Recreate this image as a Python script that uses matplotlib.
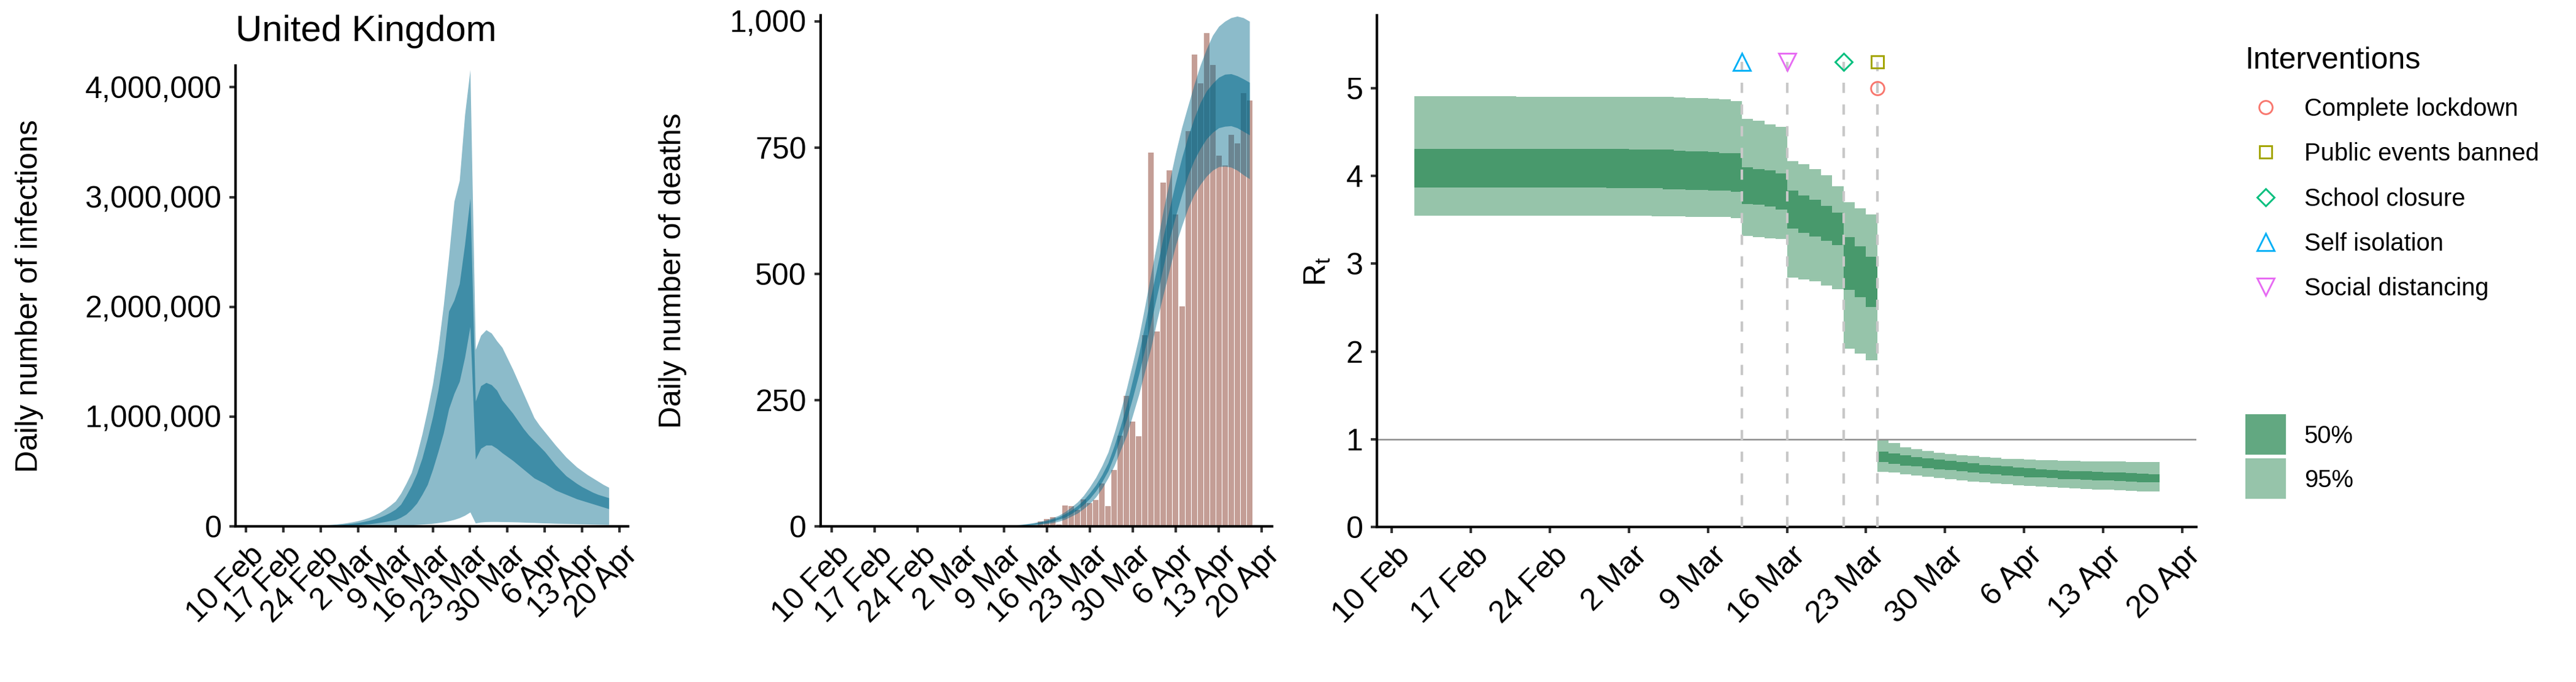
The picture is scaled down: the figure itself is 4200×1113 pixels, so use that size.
import numpy as np
import pandas as pd
import matplotlib
matplotlib.use('Agg')
import matplotlib.pyplot as plt
import matplotlib.transforms as mtransforms
from matplotlib.lines import Line2D
from matplotlib.ticker import FuncFormatter

plt.rcParams['font.family'] = ['Liberation Sans', 'DejaVu Sans']
plt.rcParams['mathtext.fontset'] = 'custom'
plt.rcParams['mathtext.rm'] = 'Liberation Sans'

# model days: 12 Feb .. 18 Apr 2020
dates = pd.date_range('2020-02-12', '2020-04-18', freq='D')

# daily infections (thousands)
inf_hi95 = [0.75, 0.9, 1.2, 1.5, 1.8, 2.3, 2.9, 3.6, 4.5, 5.6,
            7, 8.7, 11, 13.5, 17, 21, 26, 33, 41, 51,
            64, 80, 100, 125, 155, 190, 230, 300, 390, 490,
            650, 840, 1060, 1300, 1620, 2010, 2460, 2960, 3150, 3750,
            4160, 1610, 1740, 1790, 1760, 1690, 1630, 1530, 1430, 1320,
            1210, 1100, 990, 920, 860, 800, 740, 685, 630, 585,
            540, 505, 470, 440, 410, 380, 355]
inf_hi50 = [0.5, 0.65, 0.8, 1, 1.25, 1.55, 1.95, 2.4, 3, 3.8,
            4.7, 5.9, 7.3, 9.1, 11.4, 14.2, 17.8, 22, 27.5, 34,
            43, 53, 66, 82, 102, 126, 155, 200, 280, 370,
            480, 620, 800, 1000, 1240, 1540, 1960, 2060, 2210, 2570,
            2990, 1140, 1280, 1310, 1290, 1240, 1150, 1090, 1030, 960,
            890, 830, 780, 730, 680, 620, 560, 510, 460, 425,
            390, 360, 335, 310, 290, 275, 260]
inf_lo50 = [0.15, 0.2, 0.25, 0.3, 0.4, 0.5, 0.6, 0.8, 1, 1.3,
            1.6, 2, 2.6, 3.3, 4.2, 5.3, 6.8, 8.6, 11, 14,
            17.5, 22, 27.5, 34, 42, 51, 60, 82, 110, 155,
            210, 290, 380, 520, 680, 850, 1070, 1210, 1320, 1540,
            1820, 610, 710, 740, 740, 710, 670, 635, 600, 560,
            520, 480, 440, 415, 390, 360, 330, 310, 290, 270,
            250, 235, 220, 205, 190, 175, 160]
inf_lo95 = [0.02, 0.03, 0.04, 0.05, 0.06, 0.08, 0.1, 0.12, 0.15, 0.2,
            0.25, 0.3, 0.4, 0.5, 0.6, 0.8, 1, 1.2, 1.5, 1.9,
            2.3, 2.8, 3.4, 4, 5, 6, 7, 9, 11, 13,
            16, 19, 22, 27, 33, 40, 50, 62, 78, 100,
            130, 30, 38, 42, 43, 43, 42, 41, 40, 39,
            37, 35, 34, 32, 30, 29, 27, 26, 25, 23,
            22, 21, 20, 19, 18, 17, 16]

# reported daily deaths
deaths_obs = [0, 0, 0, 0, 0, 0, 0, 0, 0, 0,
              0, 0, 0, 0, 0, 0, 0, 0, 0, 0,
              0, 0, 0, 0, 0, 0, 0, 0, 0, 0,
              0, 1, 10, 14, 18, 4, 41, 40, 33, 54,
              46, 52, 85, 40, 112, 179, 258, 207, 178, 379,
              740, 386, 681, 705, 618, 436, 782, 934, 877, 976,
              913, 734, 714, 775, 758, 858, 843]
# modelled daily deaths
death_hi95 = [0.01, 0.01, 0.01, 0.02, 0.02, 0.03, 0.03, 0.04, 0.05, 0.06,
              0.08, 0.1, 0.12, 0.15, 0.19, 0.24, 0.3, 0.37, 0.46, 0.58,
              0.72, 0.9, 1.1, 1.4, 1.7, 2.0, 2.3, 2.6, 3, 4,
              5.5, 7.5, 10, 13, 17, 22, 29, 38, 48, 61,
              78, 97, 120, 147, 185, 227, 273, 323, 375, 437,
              502, 563, 627, 684, 740, 790, 833, 875, 913, 945,
              972, 990, 1000, 1007, 1010, 1007, 1000]
death_hi50 = [0.01, 0.01, 0.01, 0.01, 0.02, 0.02, 0.02, 0.03, 0.04, 0.05,
              0.06, 0.07, 0.09, 0.11, 0.14, 0.18, 0.22, 0.27, 0.34, 0.42,
              0.52, 0.65, 0.8, 1.0, 1.25, 1.5, 1.75, 2.1, 2.5, 3.3,
              4.5, 6, 8.5, 11, 14.5, 19, 25, 32, 41, 52,
              66, 82, 102, 126, 160, 198, 240, 290, 341, 400,
              458, 515, 575, 630, 682, 730, 772, 808, 839, 862,
              877, 889, 895, 896, 892, 886, 879]
death_lo50 = [0, 0, 0.01, 0.01, 0.01, 0.01, 0.02, 0.02, 0.03, 0.03,
              0.04, 0.05, 0.06, 0.08, 0.1, 0.12, 0.15, 0.19, 0.24, 0.3,
              0.37, 0.46, 0.57, 0.7, 0.85, 1.0, 1.15, 1.3, 1.5, 2,
              3, 4, 5.5, 7, 10, 14, 18, 25, 33, 43,
              55, 70, 88, 110, 140, 175, 212, 255, 301, 352,
              405, 460, 515, 570, 615, 657, 695, 725, 748, 767,
              780, 789, 792, 793, 789, 782, 775]
death_lo95 = [0, 0, 0, 0, 0.01, 0.01, 0.01, 0.01, 0.02, 0.02,
              0.03, 0.03, 0.04, 0.05, 0.06, 0.08, 0.1, 0.12, 0.15, 0.19,
              0.24, 0.3, 0.37, 0.45, 0.55, 0.65, 0.75, 0.85, 1, 1.4,
              2, 2.8, 3.8, 5, 7, 10, 14, 20, 26, 35,
              45, 58, 75, 96, 120, 150, 180, 220, 261, 308,
              355, 410, 460, 509, 557, 595, 630, 657, 677, 693,
              705, 712, 713, 711, 705, 696, 688]

# reproduction number R_t
rt_hi95 = [4.91, 4.91, 4.91, 4.91, 4.91, 4.91, 4.91, 4.91, 4.91, 4.90,
           4.90, 4.90, 4.90, 4.90, 4.90, 4.90, 4.90, 4.90, 4.90, 4.90,
           4.90, 4.90, 4.90, 4.895, 4.89, 4.89, 4.88, 4.87, 4.85, 4.65,
           4.63, 4.59, 4.56, 4.17, 4.13, 4.08, 4.01, 3.88, 3.70, 3.63,
           3.56, 1.00, 0.96, 0.91, 0.89, 0.87, 0.85, 0.83, 0.82, 0.81,
           0.80, 0.79, 0.78, 0.775, 0.77, 0.765, 0.76, 0.757, 0.755, 0.752,
           0.75, 0.748, 0.746, 0.744, 0.742, 0.74, 0.74]
rt_hi50 = [4.31, 4.31, 4.31, 4.31, 4.31, 4.31, 4.31, 4.31, 4.31, 4.31,
           4.31, 4.31, 4.31, 4.31, 4.31, 4.31, 4.31, 4.31, 4.31, 4.30,
           4.30, 4.30, 4.30, 4.29, 4.28, 4.28, 4.27, 4.26, 4.26, 4.10,
           4.08, 4.06, 4.03, 3.83, 3.78, 3.73, 3.66, 3.58, 3.30, 3.20,
           3.08, 0.86, 0.84, 0.82, 0.80, 0.785, 0.77, 0.755, 0.74, 0.725,
           0.71, 0.70, 0.69, 0.68, 0.67, 0.66, 0.65, 0.645, 0.64, 0.635,
           0.63, 0.625, 0.62, 0.615, 0.61, 0.605, 0.60]
rt_lo50 = [3.87, 3.87, 3.87, 3.87, 3.87, 3.87, 3.87, 3.87, 3.87, 3.87,
           3.87, 3.87, 3.87, 3.87, 3.87, 3.87, 3.87, 3.86, 3.86, 3.86,
           3.86, 3.86, 3.85, 3.85, 3.84, 3.84, 3.83, 3.83, 3.82, 3.68,
           3.67, 3.65, 3.62, 3.40, 3.35, 3.31, 3.26, 3.21, 2.70, 2.62,
           2.51, 0.74, 0.72, 0.70, 0.69, 0.675, 0.66, 0.65, 0.64, 0.625,
           0.61, 0.60, 0.59, 0.58, 0.57, 0.565, 0.56, 0.55, 0.545, 0.54,
           0.535, 0.53, 0.525, 0.52, 0.515, 0.51, 0.505]
rt_lo95 = [3.55, 3.55, 3.55, 3.55, 3.55, 3.55, 3.55, 3.55, 3.55, 3.55,
           3.55, 3.55, 3.55, 3.55, 3.55, 3.55, 3.55, 3.55, 3.55, 3.55,
           3.55, 3.54, 3.54, 3.54, 3.535, 3.535, 3.53, 3.53, 3.52, 3.32,
           3.30, 3.29, 3.28, 2.84, 2.82, 2.80, 2.75, 2.71, 2.03, 1.98,
           1.90, 0.63, 0.62, 0.60, 0.59, 0.575, 0.56, 0.55, 0.535, 0.52,
           0.51, 0.50, 0.49, 0.48, 0.47, 0.46, 0.455, 0.45, 0.44, 0.435,
           0.43, 0.425, 0.42, 0.415, 0.41, 0.405, 0.40]

interventions = ['Complete lockdown', 'Public events banned', 'School closure',
                 'Self isolation', 'Social distancing']
intervention_dates = pd.to_datetime(['2020-03-24', '2020-03-24', '2020-03-21',
                                     '2020-03-12', '2020-03-16'])
intervention_y = [5.0, 5.3, 5.3, 5.3, 5.3]

tick_dates = pd.date_range('2020-02-10', '2020-04-20', freq='7D')
tick_labels = ['10 Feb', '17 Feb', '24 Feb', '2 Mar', '9 Mar', '16 Mar',
               '23 Mar', '30 Mar', '6 Apr', '13 Apr', '20 Apr']

# styles
blue = '#00688B'      # deepskyblue4
coral = '#8B3E2F'     # coral4
green = '#2E8B57'     # seagreen
markers = ['o', 's', 'D', '^', 'v']
msizes = [5.2, 4.7, 4.7, 6.8, 6.8]
mcolors = ['#F8766D', '#A3A500', '#00BF7D', '#00B0F6', '#E76BF3']

origin = pd.Timestamp('2020-02-10')


def style_axis(ax, xlo, xhi):
    for s in ['top', 'right']:
        ax.spines[s].set_visible(False)
    for s in ['left', 'bottom']:
        ax.spines[s].set_linewidth(1.0)
    ax.tick_params(length=2.5, width=1.0, color='#333333', labelsize=12, pad=3)
    ax.set_xticks(tick_dates)
    ax.set_xticklabels(tick_labels, rotation=45, ha='right', va='top',
                       rotation_mode='anchor')
    # nudge rotated labels a little to the right, as ggplot places them
    shift = mtransforms.ScaledTranslation(6 / 300, 0, fig.dpi_scale_trans)
    for lab in ax.get_xticklabels():
        lab.set_transform(lab.get_transform() + shift)
    ax.set_xlim(origin + pd.Timedelta(days=xlo), origin + pd.Timedelta(days=xhi))


fig = plt.figure(figsize=(14, 3.71), dpi=300)

# infections
ax1 = fig.add_axes([0.0915, 0.2282, 0.1523, 0.6761])
ax1.fill_between(dates, np.array(inf_lo95) * 1000, np.array(inf_hi95) * 1000,
                 color=blue, alpha=0.45, lw=0)
ax1.fill_between(dates, np.array(inf_lo50) * 1000, np.array(inf_hi50) * 1000,
                 color=blue, alpha=0.55, lw=0)
ax1.set_ylim(0, 4.2e6)
ax1.set_yticks([0, 1e6, 2e6, 3e6, 4e6])
ax1.yaxis.set_major_formatter(FuncFormatter(lambda v, p: f'{v:,.0f}'))
style_axis(ax1, -1.94, 71.6)
ax1.set_ylabel('Daily number of infections', fontsize=12)
ax1.yaxis.set_label_coords(-0.490, 0.5)
ax1.set_title('United Kingdom', loc='left', fontsize=14.4, pad=9.4)

# deaths
ax2 = fig.add_axes([0.3185, 0.2282, 0.1753, 0.7495])
ax2.bar(dates, deaths_obs, width=0.9, color=coral, alpha=0.5, lw=0)
ax2.fill_between(dates, death_lo95, death_hi95, color=blue, alpha=0.45, lw=0)
ax2.fill_between(dates, death_lo50, death_hi50, color=blue, alpha=0.55, lw=0)
ax2.set_ylim(0, 1012)
ax2.set_yticks([0, 250, 500, 750, 1000])
ax2.yaxis.set_major_formatter(FuncFormatter(lambda v, p: f'{v:,.0f}'))
style_axis(ax2, -1.83, 71.67)
ax2.set_ylabel('Daily number of deaths', fontsize=12)
ax2.yaxis.set_label_coords(-0.2955, 0.5)

# R_t
ax3 = fig.add_axes([0.5346, 0.2270, 0.3180, 0.7507])
ax3.fill_between(dates, rt_lo95, rt_hi95, step='post', color=green, alpha=0.5, lw=0)
ax3.fill_between(dates, rt_lo50, rt_hi50, step='post', color=green, alpha=0.75, lw=0)
ax3.axhline(1, color='#8c8c8c', lw=0.6, zorder=1)
ax3.vlines(intervention_dates, 0, intervention_y, colors='#c8c8c8',
           linestyles=(0, (4, 4.5)), lw=1.0, zorder=3)
for d, y, m, ms, c in zip(intervention_dates, intervention_y, markers, msizes, mcolors):
    ax3.plot([d], [y], ls='none', marker=m, ms=ms, mfc='none', mec=c, mew=0.7,
             zorder=4, clip_on=False)
ax3.set_ylim(0, 5.83)
ax3.set_yticks([0, 1, 2, 3, 4, 5])
style_axis(ax3, -1.30, 71.25)
ax3.set_ylabel(r'$\mathregular{R_t}$', fontsize=12)
ax3.yaxis.set_label_coords(-0.0552, 0.5)

# legends
fig.text(0.8716, 0.8994, 'Interventions', fontsize=12, ha='left', va='baseline')
handles = [Line2D([], [], ls='none', marker=m, ms=ms, mfc='none', mec=c, mew=0.7)
           for m, ms, c in zip(markers, msizes, mcolors)]
fig.legend(handles, interventions, loc='upper left',
           bbox_to_anchor=(0.8716, 0.8570), frameon=False, fontsize=9.6,
           handlelength=1.67, handletextpad=0.73, labelspacing=0.88,
           borderpad=0, borderaxespad=0)

keys = [Line2D([], [], ls='none', marker='s', ms=15.8, mfc=green, mec='none', alpha=0.75),
        Line2D([], [], ls='none', marker='s', ms=15.8, mfc=green, mec='none', alpha=0.5)]
fig.legend(keys, ['50%', '95%'], loc='upper left',
           bbox_to_anchor=(0.8716, 0.3770), frameon=False, fontsize=9.6,
           handlelength=1.67, handletextpad=0.73, labelspacing=0.83,
           borderpad=0, borderaxespad=0)

fig.savefig('out.png', dpi=300, facecolor='white')
